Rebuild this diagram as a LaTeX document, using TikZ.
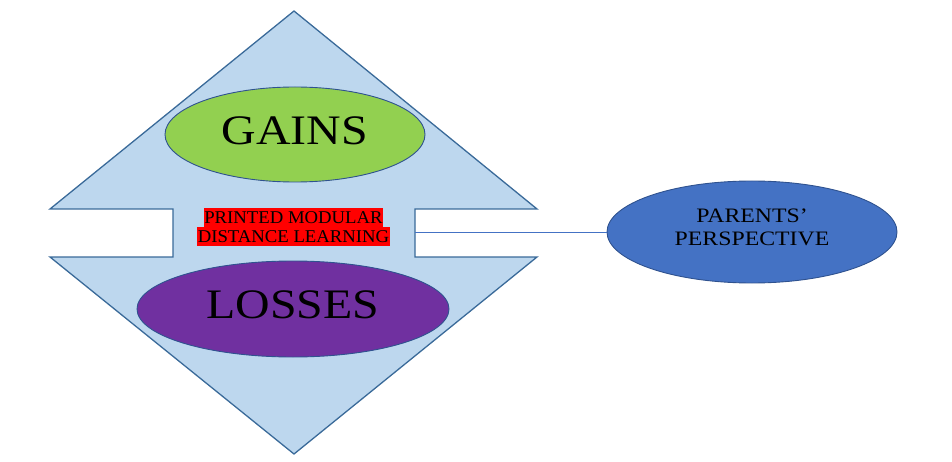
\documentclass[tikz,border=0pt]{standalone}
\usepackage{fontspec}
\setmainfont{Liberation Serif}
\usepackage{tikz}
\usetikzlibrary{shapes.geometric}

\definecolor{diamondfill}{HTML}{BDD7EE}
\definecolor{diamondline}{HTML}{3A6A99}
\definecolor{gainsgreen}{HTML}{92D050}
\definecolor{lossespurple}{HTML}{7030A0}
\definecolor{parentsblue}{HTML}{4472C4}
\definecolor{ovalline}{HTML}{2F528F}
\setlength{\fboxsep}{0.8pt}
\newcommand{\pmlline}[1]{\colorbox{red}{\rule[-2.7pt]{0pt}{17.4pt}\scalebox{1.04}[1]{#1}}}

\begin{document}
\begin{tikzpicture}[x=1pt, y=-1pt, every node/.style = {font=\fontsize{18}{19}\selectfont}]

\tikzstyle{oval}=[ellipse, draw=ovalline, line width=0.9pt, inner sep=0pt, align=center]
\tikzstyle{bigword}=[font=\fontsize{42}{42}\selectfont]

\useasboundingbox (0,0) rectangle (952,462);

\draw[diamondline, fill=diamondfill, line width=1.3pt] (294,11) -- (50,209) -- (173,209) -- (173,257) -- (50,257)
	-- (294,454) -- (537,257) -- (415,257) -- (415,209) -- (537,209) -- cycle;

\node[oval, bigword, fill=gainsgreen, minimum width=260, minimum height=95, text depth=7pt] (gains) at (295,134.5) {\scalebox{1.14}[1]{GAINS}};
\node[oval, bigword, fill=lossespurple, minimum width=312, minimum height=96, text depth=8pt] (losses) at (293,309) {\scalebox{1.14}[1]{LOSSES}};
\node[inner sep=0pt, align=center] (pml) at (293.5,226.7) {\pmlline{PRINTED MODULAR}\\\pmlline{DISTANCE LEARNING}};
\node[oval, fill=parentsblue, minimum width=290, minimum height=102, text depth=9pt, font=\fontsize{20.5}{23}\selectfont] (parents) at (752,232)
	{\scalebox{1.16}[1]{PARENTS’}\\\scalebox{1.16}[1]{PERSPECTIVE}};

\coordinate (notch) at (415,232);
\draw[parentsblue, line width=0.8pt] (notch) -- (parents.west);
\end{tikzpicture}
\end{document}
